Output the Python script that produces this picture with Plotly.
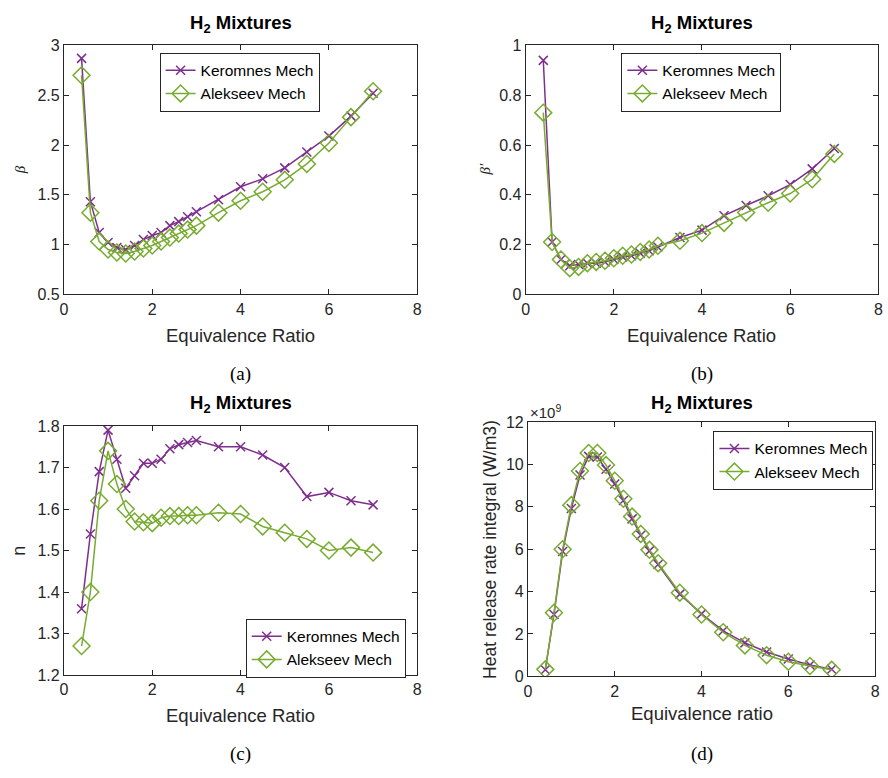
import plotly.graph_objects as go

# ---------------- data ----------------
phi = [0.4, 0.6, 0.8, 1.0, 1.2, 1.4, 1.6, 1.8, 2.0, 2.2, 2.4, 2.6, 2.8, 3.0,
       3.5, 4.0, 4.5, 5.0, 5.5, 6.0, 6.5, 7.0]

beta_keromnes = [2.87, 1.43, 1.12, 1.02, 0.97, 0.95, 0.99, 1.05, 1.09, 1.12, 1.19,
                 1.23, 1.28, 1.33, 1.45, 1.58, 1.66, 1.77, 1.93, 2.09, 2.29, 2.52]
beta_alekseev = [2.70, 1.32, 1.03, 0.95, 0.92, 0.91, 0.93, 0.96, 0.99, 1.03, 1.07,
                 1.11, 1.15, 1.19, 1.32, 1.44, 1.53, 1.65, 1.81, 2.02, 2.28, 2.54]

betap_keromnes = [0.94, 0.21, 0.14, 0.115, 0.12, 0.125, 0.125, 0.13, 0.14, 0.15, 0.155,
                  0.165, 0.175, 0.19, 0.228, 0.258, 0.316, 0.357, 0.396, 0.441, 0.504, 0.586]
betap_alekseev = [0.73, 0.21, 0.14, 0.105, 0.11, 0.125, 0.13, 0.135, 0.145, 0.155, 0.16,
                  0.17, 0.18, 0.195, 0.215, 0.246, 0.287, 0.329, 0.368, 0.405, 0.462, 0.564]

n_keromnes = [1.36, 1.54, 1.69, 1.79, 1.72, 1.65, 1.68, 1.71, 1.71, 1.72, 1.745,
              1.755, 1.76, 1.765, 1.75, 1.75, 1.73, 1.70, 1.63, 1.64, 1.62, 1.61]
n_alekseev = [1.27, 1.40, 1.62, 1.74, 1.66, 1.60, 1.57, 1.568, 1.566, 1.579, 1.583,
              1.583, 1.585, 1.585, 1.591, 1.588, 1.558, 1.543, 1.528, 1.50, 1.507, 1.495]

# heat release rate integral, in units of 1e9 W/m3
hrr_keromnes_e9 = [0.31, 2.92, 5.89, 7.92, 9.50, 10.38, 10.35, 9.77, 9.08, 8.30, 7.43,
                   6.66, 5.92, 5.28, 3.88, 2.95, 2.15, 1.58, 1.15, 0.82, 0.54, 0.34]
hrr_alekseev_e9 = [0.33, 3.00, 6.00, 8.08, 9.69, 10.54, 10.54, 9.97, 9.23, 8.38, 7.54,
                   6.72, 5.97, 5.34, 3.95, 2.92, 2.08, 1.46, 1.00, 0.69, 0.49, 0.31]

series_names = ["Keromnes Mech", "Alekseev Mech"]
x_ticks = [0, 2, 4, 6, 8]

# ---------------- style ----------------
W, H = 888, 778
PURPLE = "#7E2F8E"
GREEN = "#77AC30"
AX = "#262626"
SANS = "Liberation Sans, Arial, sans-serif"
SERIF = "Liberation Serif, DejaVu Serif, serif"


def px_x(p):
    return p / W


def px_y(p):
    return 1 - p / H


fig = go.Figure()

panels = [
    dict(k=beta_keromnes, a=beta_alekseev, xd=(60.5, 417.5), yd=(38.3, 292.7),
         yr=[0.5, 3], dt=0.5, leg=(238, 45.7)),
    dict(k=betap_keromnes, a=betap_alekseev, xd=(527, 883.3), yd=(38.3, 292.7),
         yr=[0, 1], dt=0.2, leg=(704.5, 45.7)),
    dict(k=n_keromnes, a=n_alekseev, xd=(60.5, 417.5), yd=(427.3, 682),
         yr=[1.2, 1.8], dt=0.1, leg=(325, 624.3)),
    dict(k=hrr_keromnes_e9, a=hrr_alekseev_e9, xd=(529.3, 880), yd=(423.3, 683.3),
         yr=[0, 12], dt=2, leg=(797.5, 432.3)),
]

for i, p in enumerate(panels, start=1):
    sfx = "" if i == 1 else str(i)
    legname = "legend" if i == 1 else f"legend{i}"
    fig.add_trace(go.Scatter(
        x=phi, y=p["k"], name=series_names[0], mode="lines+markers",
        line=dict(color=PURPLE, width=1.5),
        marker=dict(symbol="x-thin-open", size=9, line=dict(color=PURPLE, width=1.5)),
        xaxis="x" + sfx, yaxis="y" + sfx, legend=legname))
    fig.add_trace(go.Scatter(
        x=phi, y=p["a"], name=series_names[1], mode="lines+markers",
        line=dict(color=GREEN, width=1.5),
        marker=dict(symbol="diamond-open", size=13, color=GREEN,
                    line=dict(color=GREEN, width=1.5)),
        xaxis="x" + sfx, yaxis="y" + sfx, legend=legname))

    common = dict(showline=True, linecolor=AX, linewidth=1, mirror="ticks",
                  ticks="inside", ticklen=5, tickcolor=AX, tickwidth=1,
                  showgrid=False, zeroline=False, ticklabeloverflow="allow",
                  tickfont=dict(family=SANS, size=16, color=AX))
    fig.layout["xaxis" + sfx] = dict(
        domain=[px_x(p["xd"][0]), px_x(p["xd"][1])], range=[0, 8],
        tickvals=x_ticks, anchor="y" + sfx, **common)
    fig.layout["yaxis" + sfx] = dict(
        domain=[px_y(p["yd"][1]), px_y(p["yd"][0])], range=p["yr"],
        dtick=p["dt"], tick0=0, anchor="x" + sfx, **common)
    fig.layout[legname] = dict(
        x=px_x(p["leg"][0]), y=px_y(p["leg"][1]), xanchor="center", yanchor="top",
        bgcolor="white", bordercolor=AX, borderwidth=1,
        font=dict(family=SANS, size=15.5, color="black"),
        tracegroupgap=0, itemwidth=30)

annotations = []


def ann(text, x, y, size, family=SANS, angle=0, color=AX, **kw):
    annotations.append(dict(text=text, x=px_x(x), y=px_y(y), xref="paper", yref="paper",
                            showarrow=False, textangle=angle, xanchor="center",
                            yanchor="middle",
                            font=dict(family=family, size=size, color=color), **kw))


title = "<b>H<sub>2</sub> Mixtures</b>"
for cx, cy in [(239, 16), (705, 16), (239, 405), (705, 405)]:
    ann(title, cx, cy, 18.5, color="black")

ann("Equivalence Ratio", 239, 335, 18.5)
ann("Equivalence Ratio", 705, 335, 18.5)
ann("Equivalence Ratio", 239, 723, 18.5)
ann("Equivalence ratio", 705, 721, 18.5)

ann("<i>β</i>", 17, 165, 15, family=SERIF, angle=-90)
ann("<i>β′</i>", 486, 165, 15, family=SERIF, angle=-90)
ann("n", 15, 555, 18, angle=-90)
ann("Heat release rate integral (W/m3)", 491, 554, 17.5, angle=-90)
ann("×10<sup>9</sup>", 547, 413, 15)

ann("(a)", 239, 374, 19, family=SERIF, color="black")
ann("(b)", 705, 374, 19, family=SERIF, color="black")
ann("(c)", 239, 763, 19, family=SERIF, color="black")
ann("(d)", 705, 763, 19, family=SERIF, color="black")

fig.update_layout(autosize=True,
                  margin=dict(l=0, r=0, t=0, b=0),
                  paper_bgcolor="white", plot_bgcolor="white",
                  annotations=annotations, showlegend=True)

fig.write_html("out.html",
               config={"displayModeBar": False, "responsive": True},
               default_width="100vw", default_height="100vh",
               post_script="document.body.style.margin='0px';"
                           "document.body.style.overflow='hidden';")
